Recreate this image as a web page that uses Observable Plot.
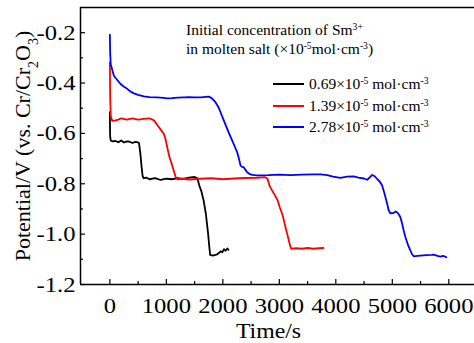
<!DOCTYPE html>
<html><head><meta charset="utf-8">
<script src="https://cdn.jsdelivr.net/npm/d3@7"></script>
<script src="https://cdn.jsdelivr.net/npm/@observablehq/plot@0.6"></script>
<style>
body{margin:0;background:#fff;}
#wrap{position:relative;width:474px;height:343px;font-family:"Liberation Serif","Times New Roman",serif;color:#000;}
#wrap svg, #wrap svg text{font-family:"Liberation Serif","Times New Roman",serif !important;}
.note{position:absolute;left:186px;font-size:15.5px;line-height:15px;white-space:nowrap;}
sup{font-size:0.62em;vertical-align:0.5em;line-height:0;}
.row{position:absolute;left:273px;height:20px;font-size:15.5px;white-space:nowrap;display:flex;align-items:center;}
.sw{display:inline-block;width:31px;height:0;border-top:2px solid;margin-right:5px;}
</style></head>
<body><div id="wrap"></div>
<script>
const concLabels = ["0.69", "1.39", "2.78"];
const colors = ["#000000", "#ff0000", "#0000ff"];

const tBlack = [0,4,15,50,100,150,200,250,300,350,400,450,500,515,540,560,580,600,650,700,800,900,1000,1100,1200,1300,1400,1500,1550,1580,1620,1660,1700,1720,1740,1760,1775,1820,1870,1900,1930,1960,1990,2020,2050,2080,2100];
const vBlack = [-0.516,-0.61,-0.628,-0.632,-0.63,-0.635,-0.628,-0.636,-0.632,-0.633,-0.638,-0.634,-0.636,-0.638,-0.68,-0.73,-0.77,-0.778,-0.776,-0.782,-0.778,-0.785,-0.78,-0.782,-0.778,-0.781,-0.776,-0.773,-0.778,-0.805,-0.83,-0.867,-0.92,-0.96,-1.0,-1.05,-1.082,-1.085,-1.082,-1.08,-1.075,-1.068,-1.072,-1.06,-1.066,-1.057,-1.062];

const tRed = [0,5,15,40,100,150,200,300,400,500,600,700,780,850,900,950,985,1020,1050,1100,1140,1170,1200,1300,1400,1600,1800,2000,2200,2400,2600,2750,2790,2830,2873,2920,2973,3010,3050,3080,3109,3140,3168,3190,3209,3300,3400,3500,3600,3700,3780];
const vRed = [-0.318,-0.45,-0.53,-0.55,-0.548,-0.545,-0.54,-0.545,-0.54,-0.545,-0.542,-0.54,-0.548,-0.57,-0.585,-0.6,-0.622,-0.66,-0.69,-0.725,-0.755,-0.776,-0.782,-0.78,-0.783,-0.78,-0.778,-0.782,-0.779,-0.777,-0.776,-0.774,-0.78,-0.81,-0.827,-0.845,-0.867,-0.895,-0.919,-0.945,-0.973,-1.0,-1.025,-1.045,-1.058,-1.056,-1.058,-1.055,-1.058,-1.056,-1.055];

const tBlue = [0,5,15,40,71,120,189,250,307,360,425,500,602,700,838,950,1015,1100,1200,1310,1400,1500,1605,1700,1752,1800,1870,1920,1959,2020,2077,2120,2166,2210,2254,2290,2313,2340,2372,2400,2431,2480,2520,2600,2800,3000,3200,3400,3600,3727,3850,3950,4082,4200,4317,4400,4500,4554,4600,4643,4690,4731,4780,4820,4850,4878,4910,4937,4966,5020,5060,5085,5110,5143,5170,5202,5230,5262,5290,5320,5350,5379,5450,5497,5600,5700,5733,5800,5851,5900,5957];
const vBlue = [-0.208,-0.28,-0.325,-0.345,-0.371,-0.385,-0.404,-0.415,-0.423,-0.433,-0.441,-0.447,-0.453,-0.456,-0.457,-0.459,-0.461,-0.46,-0.458,-0.457,-0.456,-0.457,-0.457,-0.455,-0.454,-0.46,-0.476,-0.495,-0.516,-0.55,-0.582,-0.605,-0.629,-0.652,-0.675,-0.705,-0.728,-0.733,-0.735,-0.745,-0.754,-0.762,-0.765,-0.767,-0.766,-0.764,-0.766,-0.764,-0.763,-0.763,-0.766,-0.772,-0.777,-0.772,-0.771,-0.776,-0.779,-0.784,-0.775,-0.765,-0.77,-0.781,-0.792,-0.807,-0.83,-0.853,-0.88,-0.906,-0.917,-0.916,-0.91,-0.913,-0.92,-0.933,-0.955,-0.986,-1.01,-1.032,-1.05,-1.065,-1.08,-1.088,-1.086,-1.085,-1.083,-1.082,-1.081,-1.086,-1.089,-1.086,-1.092];

const xTicks = [0,1000,2000,3000,4000,5000,6000];
const xMinor = [500,1500,2500,3500,4500,5500];
const yTicks = [-1.2,-1.0,-0.8,-0.6,-0.4,-0.2];
const yMinor = [-1.1,-0.9,-0.7,-0.5,-0.3];
const xDomain = [-520, 6455];
const yDomain = [-1.2, -0.1];

const seriesT = [tBlack, tRed, tBlue];
const seriesV = [vBlack, vRed, vBlue];
const data = [];
concLabels.forEach((s, k) => seriesT[k].forEach((t, i) => data.push({t, v: seriesV[k][i], s})));

const fmt = d => d3.format(".1f")(d).replace("\u2212", "-");
const serif = '"Liberation Serif","Times New Roman",serif';

const plot = Plot.plot({
  width: 474, height: 343,
  marginLeft: 80, marginRight: 0, marginTop: 7, marginBottom: 59,
  style: {fontFamily: serif, fontSize: "22px", color: "#000", background: "#fff"},
  x: {domain: xDomain},
  y: {domain: yDomain},
  color: {domain: concLabels, range: colors},
  marks: [
    Plot.axisX({ticks: xTicks, tickSize: -5, tickPadding: 18, tickFormat: d3.format("d"), label: null, strokeWidth: 1.2, fontFamily: serif}),
    Plot.axisX({ticks: xMinor, tickSize: -3, tickFormat: () => "", label: null, strokeWidth: 1.2}),
    Plot.axisY({ticks: yTicks, tickSize: -5, tickPadding: 10, tickFormat: fmt, label: null, strokeWidth: 1.2, fontFamily: serif}),
    Plot.axisY({ticks: yMinor, tickSize: -3, tickFormat: () => "", label: null, strokeWidth: 1.2}),
    Plot.line(data, {x: "t", y: "v", z: "s", stroke: "s", strokeWidth: 1.8, curve: "linear"}),
    Plot.ruleY([yDomain[0], yDomain[1]], {stroke: "#000", strokeWidth: 1.5}),
    Plot.ruleX([xDomain[0]], {stroke: "#000", strokeWidth: 1.5}),
    Plot.text(["Time/s"], {frameAnchor: "bottom", dx: -9, dy: 53, lineAnchor: "bottom", fontSize: 22, fontFamily: serif}),
    Plot.text(["Potential/V (vs. Cr/Cr2O3)"], {frameAnchor: "left", rotate: -90, dx: -58, lineAnchor: "middle", textAnchor: "middle", fontSize: 22, fontFamily: serif})
  ]
});

// subscripts in the y title
plot.querySelectorAll("text").forEach(el => {
  if (el.textContent === "Potential/V (vs. Cr/Cr2O3)") {
    const target = el.querySelector("tspan") || el;
    target.textContent = "";
    const parts = [["Potential/V (vs. Cr/Cr", false], ["2", true], ["O", false], ["3", true], [")", false]];
    parts.forEach(([s, sub]) => {
      const ts = document.createElementNS("http://www.w3.org/2000/svg", "tspan");
      ts.textContent = s;
      if (sub) { ts.setAttribute("baseline-shift", "sub"); ts.setAttribute("font-size", "14"); }
      target.appendChild(ts);
    });
  }
});

const wrap = document.getElementById("wrap");
wrap.appendChild(plot);

// the reference type is slightly wider than plain Times: widen tick labels and x title
plot.querySelectorAll("g[aria-label='x-axis tick label'] text, g[aria-label='y-axis tick label'] text").forEach(el => {
  const w = el.getComputedTextLength();
  if (w > 0) { el.setAttribute("textLength", (w * 1.12).toFixed(1)); el.setAttribute("lengthAdjust", "spacingAndGlyphs"); }
});
plot.querySelectorAll("text").forEach(el => {
  if (el.textContent === "Time/s") {
    const w = el.getComputedTextLength();
    el.setAttribute("textLength", (w * 1.08).toFixed(1)); el.setAttribute("lengthAdjust", "spacingAndGlyphs");
  }
});

const n1 = document.createElement("div");
n1.className = "note"; n1.style.top = "22px";
n1.innerHTML = "Initial concentration of Sm<sup>3+</sup>";
wrap.appendChild(n1);
const n2 = document.createElement("div");
n2.className = "note"; n2.style.top = "41px";
n2.innerHTML = "in molten salt (×10<sup>-5</sup>mol·cm<sup>-3</sup>)";
wrap.appendChild(n2);

const rowTops = [74, 96, 117];
concLabels.forEach((c, i) => {
  const r = document.createElement("div");
  r.className = "row"; r.style.top = rowTops[i] + "px";
  r.innerHTML = `<span class="sw" style="border-color:${colors[i]}"></span><span>${c}×10<sup>-5</sup> mol·cm<sup>-3</sup></span>`;
  wrap.appendChild(r);
});
</script>
</body></html>
